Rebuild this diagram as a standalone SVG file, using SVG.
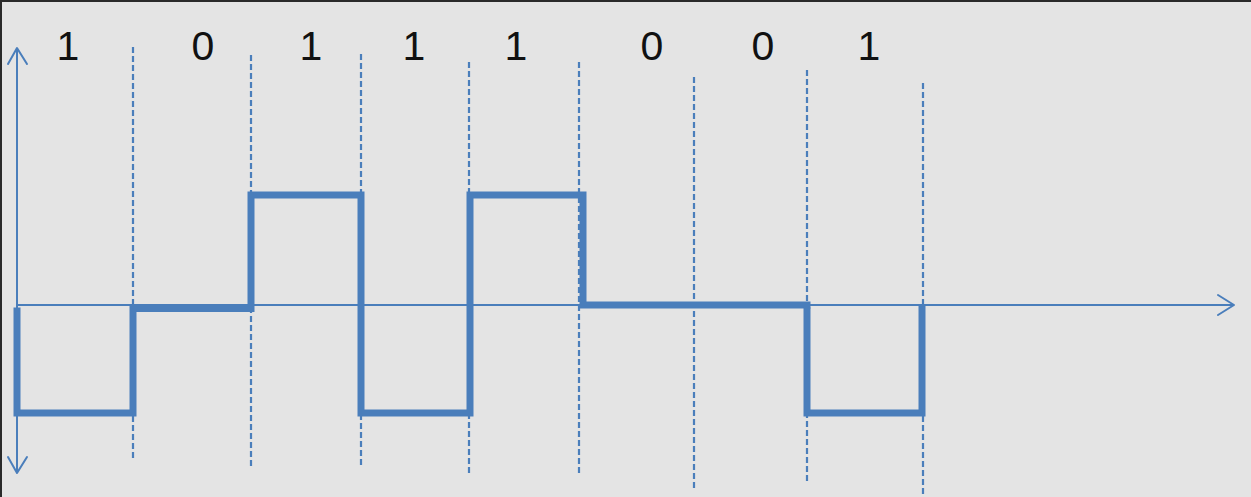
<svg xmlns="http://www.w3.org/2000/svg" width="1251" height="497" viewBox="0 0 1251 497">
<style>
.bg{fill:#e4e4e4}
.edge{stroke:#2a2a2a;stroke-width:2;fill:none}
.axis{stroke:#4a7ebb;stroke-width:2;fill:none}
.head{stroke:#4a7ebb;stroke-width:2;fill:none;stroke-linecap:round;stroke-linejoin:round}
.grid{stroke:#4a7ebb;stroke-width:2.2;stroke-dasharray:6 3;fill:none}
.sig{stroke:#4a7ebb;stroke-width:7;fill:none;stroke-linejoin:miter;stroke-linecap:square}
.bit{font-family:"Liberation Sans",Arial,sans-serif;font-size:41px;fill:#111;text-anchor:middle}
</style>
<rect class="bg" x="0" y="0" width="1251" height="497"/>
<polyline class="edge" points="1,497 1,1 1251,1"/>
<g id="gridlines">
<line class="grid" x1="133" y1="47" x2="133" y2="460"/>
<line class="grid" x1="251" y1="55" x2="251" y2="468"/>
<line class="grid" x1="361" y1="54" x2="361" y2="468"/>
<line class="grid" x1="469" y1="62" x2="469" y2="476"/>
<line class="grid" x1="579" y1="62" x2="579" y2="476"/>
<line class="grid" x1="694" y1="77" x2="694" y2="489"/>
<line class="grid" x1="807" y1="70" x2="807" y2="483"/>
<line class="grid" x1="923" y1="83" x2="923" y2="497"/>
</g>
<g id="axes">
<line class="axis" x1="17" y1="48" x2="17" y2="473"/>
<polyline class="head" points="8,64 17,48 27,64"/>
<polyline class="head" points="8,457 17,473 27,457"/>
<line class="axis" x1="17" y1="305" x2="1234" y2="305"/>
<polyline class="head" points="1218,295 1234,305 1218,315"/>
</g>
<g id="signal">
<polyline class="sig" points="17,311 17,413 133,413 133,308.5 251,308.5 251,195 361,195 361,413 470,413 470,195 583,195 583,305 807,305"/>
<polyline class="sig" points="807,311 807,413 922,413 922,309"/>
</g>
<g id="bits">
<text class="bit" x="68" y="60">1</text>
<text class="bit" x="203" y="60">0</text>
<text class="bit" x="311" y="60">1</text>
<text class="bit" x="414" y="60">1</text>
<text class="bit" x="516" y="60">1</text>
<text class="bit" x="652" y="60">0</text>
<text class="bit" x="763" y="60">0</text>
<text class="bit" x="869" y="60">1</text>
</g>
</svg>
